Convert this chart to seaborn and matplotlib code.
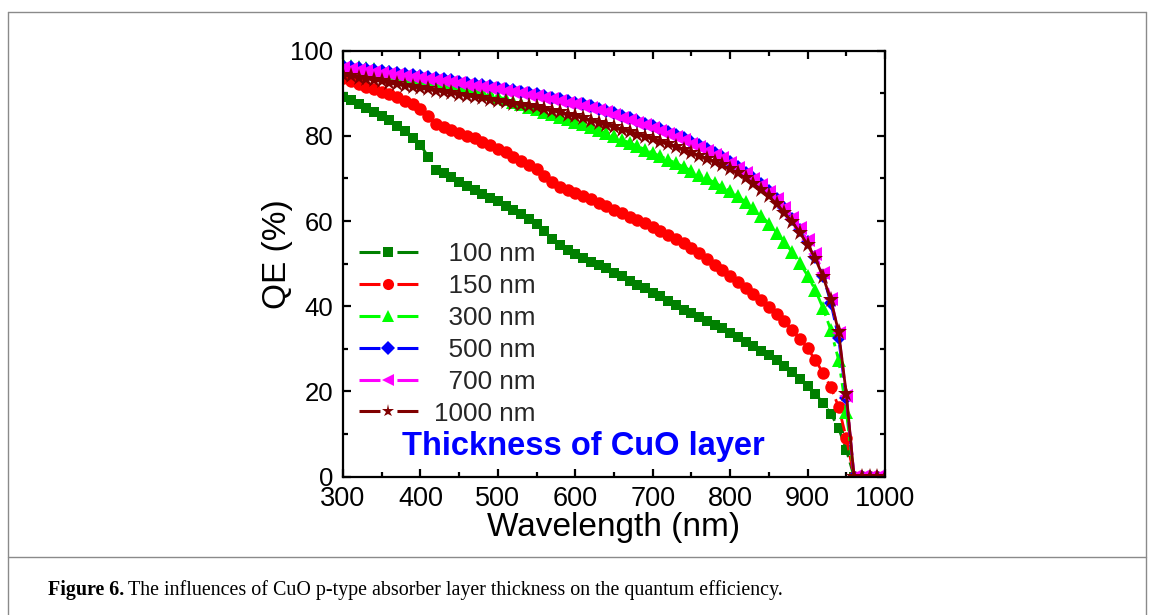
import numpy as np
import pandas as pd
import matplotlib
matplotlib.use("Agg")
import matplotlib.pyplot as plt
from matplotlib.lines import Line2D
from matplotlib.ticker import MultipleLocator
import seaborn as sns

# Wavelength grid (nm)
wavelength = np.arange(300, 1001, 10)

thickness_labels = ["100 nm", "150 nm", "300 nm", "500 nm", "700 nm", "1000 nm"]

# Quantum efficiency (%) for each CuO absorber thickness
qe_100nm = [89.2, 88.4, 87.5, 86.5, 85.7, 84.7, 83.7, 82.4, 81.1, 79.6,
            77.9, 75.1, 72.0, 71.2, 70.3, 69.2, 68.2, 67.3, 66.4, 65.5,
            64.6, 63.6, 62.6, 61.6, 60.4, 59.2, 57.6, 55.9, 54.5, 53.3,
            52.3, 51.3, 50.5, 49.7, 48.9, 47.9, 47.0, 46.0, 45.1, 44.2,
            43.2, 42.3, 41.3, 40.3, 39.2, 38.4, 37.5, 36.5, 35.6, 34.8,
            33.8, 32.8, 31.7, 30.6, 29.6, 28.5, 27.3, 26.0, 24.5, 23.0,
            21.3, 19.5, 17.2, 14.8, 11.4, 6.3, 0.0, 0.0, 0.0, 0.0, 0.0]
qe_150nm = [93.5, 92.8, 92.1, 91.5, 90.9, 90.4, 89.8, 89.1, 88.2, 87.4,
            86.3, 84.7, 82.7, 82.1, 81.4, 80.6, 80.0, 79.4, 78.6, 77.9,
            76.9, 76.1, 75.1, 74.1, 73.2, 72.2, 70.6, 69.2, 68.1, 67.4,
            66.7, 65.9, 65.1, 64.3, 63.5, 62.6, 61.8, 61.0, 60.3, 59.5,
            58.5, 57.6, 56.7, 55.7, 54.8, 53.6, 52.4, 51.1, 49.8, 48.5,
            47.2, 45.6, 44.2, 42.9, 41.5, 39.9, 38.2, 36.5, 34.5, 32.4,
            30.1, 27.4, 24.3, 21.0, 16.4, 9.0, 0.0, 0.0, 0.0, 0.0, 0.0]
qe_300nm = [96.8, 96.5, 96.2, 95.9, 95.6, 95.3, 95.0, 94.7, 94.4, 94.1,
            93.8, 93.4, 93.0, 92.6, 92.2, 91.8, 91.3, 90.8, 90.3, 89.8,
            89.2, 88.6, 88.0, 87.4, 86.8, 86.2, 85.7, 85.1, 84.5, 83.9,
            83.3, 82.7, 82.0, 81.3, 80.6, 79.9, 79.1, 78.4, 77.6, 76.8,
            76.0, 75.2, 74.4, 73.6, 72.7, 71.8, 70.9, 70.0, 69.0, 68.0,
            67.0, 65.8, 64.5, 63.0, 61.3, 59.4, 57.3, 55.1, 52.7, 50.1,
            47.2, 43.8, 39.5, 34.4, 27.4, 15.3, 0.0, 0.0, 0.0, 0.0, 0.0]
qe_500nm = [96.3, 96.1, 95.9, 95.7, 95.5, 95.2, 95.0, 94.8, 94.5, 94.3,
            94.0, 93.8, 93.5, 93.3, 93.0, 92.7, 92.4, 92.2, 91.9, 91.6,
            91.3, 91.0, 90.7, 90.4, 90.1, 89.8, 89.4, 89.0, 88.6, 88.2,
            87.8, 87.4, 86.9, 86.4, 85.9, 85.3, 84.7, 84.1, 83.5, 82.9,
            82.3, 81.6, 80.9, 80.2, 79.4, 78.6, 77.8, 76.9, 76.0, 75.0,
            73.9, 72.7, 71.4, 70.1, 68.6, 67.0, 65.1, 63.0, 60.6, 58.0,
            55.0, 51.6, 47.2, 40.8, 32.6, 18.4, 0.0, 0.0, 0.0, 0.0, 0.0]
qe_700nm = [95.9, 95.7, 95.5, 95.3, 95.1, 94.8, 94.6, 94.4, 94.1, 93.9,
            93.6, 93.4, 93.1, 92.9, 92.6, 92.3, 92.0, 91.8, 91.5, 91.2,
            90.9, 90.6, 90.3, 90.0, 89.7, 89.4, 89.0, 88.6, 88.2, 87.8,
            87.4, 87.0, 86.5, 86.0, 85.5, 84.9, 84.3, 83.7, 83.1, 82.5,
            81.9, 81.2, 80.5, 79.8, 79.0, 78.2, 77.4, 76.5, 75.6, 74.7,
            73.6, 72.4, 71.2, 69.9, 68.5, 66.9, 65.1, 63.1, 60.8, 58.3,
            55.5, 52.2, 47.8, 41.8, 33.8, 19.0, 0.0, 0.0, 0.0, 0.0, 0.0]
qe_1000nm = [94.3, 94.0, 93.7, 93.4, 93.1, 92.8, 92.4, 92.1, 91.8, 91.5,
             91.2, 90.9, 90.6, 90.3, 90.0, 89.7, 89.4, 89.1, 88.8, 88.5,
             88.2, 87.9, 87.6, 87.3, 87.0, 86.7, 86.3, 85.9, 85.5, 85.0,
             84.6, 84.1, 83.6, 83.1, 82.6, 82.0, 81.4, 80.9, 80.3, 79.8,
             79.2, 78.6, 78.0, 77.4, 76.7, 76.0, 75.3, 74.6, 73.9, 73.1,
             72.2, 71.2, 70.1, 68.8, 67.4, 65.8, 64.0, 62.0, 59.8, 57.3,
             54.4, 51.2, 46.9, 41.5, 34.0, 19.4, 0.0, 0.0, 0.0, 0.0, 0.0]

series_values = [qe_100nm, qe_150nm, qe_300nm, qe_500nm, qe_700nm, qe_1000nm]

# Styling per thickness
colors = ["#008000", "#FF0000", "#00FF00", "#0000FF", "#FF00FF", "#800000"]
markers = ["s", "o", "^", "D", "<", "*"]
marker_sizes = [7.6, 9.0, 9.4, 7.3, 9.4, 12.5]
legend_marker_sizes = [7.0, 8.0, 8.6, 7.3, 8.6, 9.5]
line_styles = [(0, (5, 2)), (0, (5, 2)), (0, (6, 2, 1.5, 2)), (0, (5, 2)), (0, (5, 2)), "-"]

df = pd.DataFrame({
    "Wavelength": np.tile(wavelength, len(thickness_labels)),
    "QE": np.concatenate([np.asarray(v, float) for v in series_values]),
    "Thickness": np.repeat(thickness_labels, len(wavelength)),
})

sns.set_theme(style="ticks")
plt.rcParams["font.family"] = ["Liberation Sans", "DejaVu Sans"]
plt.rcParams["axes.linewidth"] = 1.6

fig = plt.figure(figsize=(11.53, 6.15), dpi=100)
ax = fig.add_axes([0.2975, 0.2249, 0.4701, 0.6927])

for lab, c, m, ms, ls in zip(thickness_labels, colors, markers, marker_sizes, line_styles):
    sub = df[df["Thickness"] == lab]
    sns.lineplot(data=sub, x="Wavelength", y="QE", ax=ax, color=c, marker=m,
                 markersize=ms, markeredgewidth=0, linewidth=2.0, linestyle=ls,
                 legend=False, errorbar=None)

ax.set_xlim(300, 1000)
ax.set_ylim(0, 100)
ax.xaxis.set_major_locator(MultipleLocator(100))
ax.xaxis.set_minor_locator(MultipleLocator(50))
ax.yaxis.set_major_locator(MultipleLocator(20))
ax.yaxis.set_minor_locator(MultipleLocator(10))
ax.tick_params(which="both", direction="in", top=True, right=True,
               width=1.6, color="black", labelcolor="black")
ax.tick_params(which="major", length=6, pad=7)
ax.tick_params(which="minor", length=3.6)
ax.tick_params(axis="x", labelsize=19.5, pad=7)
ax.tick_params(axis="y", labelsize=18.5)
for sp in ax.spines.values():
    sp.set_color("black")
    sp.set_linewidth(1.6)

ax.set_xlabel("Wavelength (nm)", fontsize=24, labelpad=0, color="black")
ax.set_ylabel("QE (%)", fontsize=24, color="black")
ax.yaxis.set_label_coords(-0.093, 0.522)

# Legend with the marker set in the gap of a broken line
legend_handles = [
    Line2D([0], [0], color=c, lw=2.2, linestyle=(0, (6.86, 5.56)), marker=m,
           markersize=ms, markeredgewidth=0)
    for c, m, ms in zip(colors, markers, legend_marker_sizes)
]
legend_labels = ["  " + t if len(t) < 7 else t for t in thickness_labels]
ax.legend(legend_handles, legend_labels, loc="center left",
          bbox_to_anchor=(0.0295, 0.335), frameon=False, fontsize=18.8,
          handlelength=2.25, handletextpad=0.62, labelspacing=0.3,
          numpoints=1, borderaxespad=0, borderpad=0)

ax.text(0.443, 0.07, "Thickness of CuO layer", transform=ax.transAxes,
        ha="center", va="center", color="#0000FF", fontsize=23.5,
        fontweight="bold")

# Page frame and caption rule
W, H = 1153.0, 615.0
frame_kw = dict(transform=fig.transFigure, color="#8a8a8a", lw=1.0)
fig.add_artist(Line2D([8 / W, 8 / W], [0, 1 - 12 / H], **frame_kw))
fig.add_artist(Line2D([1146 / W, 1146 / W], [0, 1 - 12 / H], **frame_kw))
fig.add_artist(Line2D([8 / W, 1146 / W], [1 - 12 / H, 1 - 12 / H], **frame_kw))
fig.add_artist(Line2D([8 / W, 1146 / W], [1 - 557 / H, 1 - 557 / H], **frame_kw))

serif = ["Liberation Serif", "DejaVu Serif"]
cap_y = 1 - 595 / H
t1 = fig.text(48 / W, cap_y, "Figure 6.", family=serif, fontsize=14.4,
              fontweight="bold", ha="left", va="baseline", color="black")
fig.canvas.draw()
bb = t1.get_window_extent(renderer=fig.canvas.get_renderer())
fig.text(bb.x1 / W + 4 / W, cap_y,
         "The influences of CuO p-type absorber layer thickness on the quantum efficiency.",
         family=serif, fontsize=14.4, ha="left", va="baseline", color="black")

fig.savefig("out.png", dpi=100)
